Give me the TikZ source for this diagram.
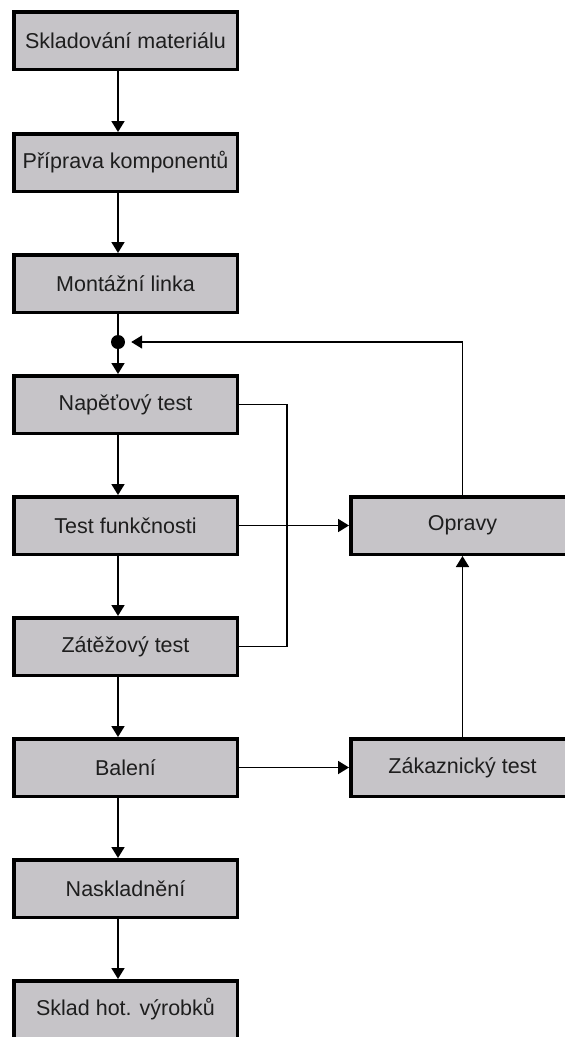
\documentclass[tikz,border=0pt]{standalone}
\usepackage{fontspec}
\setmainfont{Liberation Sans}
\usetikzlibrary{arrows.meta}
\definecolor{boxgray}{RGB}{198,196,200}
\definecolor{txtgray}{RGB}{30,30,30}
\begin{document}
\begin{tikzpicture}[x=1pt,y=-1pt,
  procbox/.style={draw=black, line width=3.5pt, fill=boxgray, minimum width=223.5pt,
    minimum height=57.5pt, inner sep=0pt, text=txtgray,
    font=\fontsize{21.5}{25}\selectfont},
  conn/.style={line width=1.8pt, black},
  arr/.style={conn, -{Triangle[length=11pt,width=13pt]}},
  junction/.style={circle, fill=black, inner sep=0pt, minimum size=14pt}]
\useasboundingbox (0,0) rectangle (565,1037);
\fill[white] (0,0) rectangle (565,1037);

% main production line
\node[procbox] (b1) at (125.5,40.5)  {Skladování materiálu};
\node[procbox] (b2) at (125.5,162.5) {Příprava komponentů};
\node[procbox] (b3) at (125.5,283.5) {Montážní linka};
\node[procbox] (b4) at (125.5,404.5) {Napěťový test};
\node[procbox] (b5) at (125.5,525.5) {Test funkčnosti};
\node[procbox] (b6) at (125.5,646.5) {Zátěžový test};
\node[procbox] (b7) at (125.5,767.5) {Balení};
\node[procbox] (b8) at (125.5,888.5) {Naskladnění};
\node[procbox] (b9) at (125.5,1009.5) {Sklad hot. výrobků};

% side branch
\node[procbox] (r1) at (462.5,525.5) {Opravy};
\node[procbox] (r2) at (462.5,767.5) {Zákaznický test};

% junction point before the voltage test
\node[junction] (j) at (118,342) {};

% vertical flow
\draw[arr] (b1.south -| j) -- (b2.north -| j);
\draw[arr] (b2.south -| j) -- (b3.north -| j);
\draw[conn] (b3.south -| j) -- (j);
\draw[arr] (j) -- (b4.north -| j);
\draw[arr] (b4.south -| j) -- (b5.north -| j);
\draw[arr] (b5.south -| j) -- (b6.north -| j);
\draw[arr] (b6.south -| j) -- (b7.north -| j);
\draw[arr] (b7.south -| j) -- (b8.north -| j);
\draw[arr] (b8.south -| j) -- (b9.north -| j);

% bracket linking the voltage test and the load test
\coordinate (bk) at (287,0);
\draw[conn] (b4.east) -- (b4.east -| bk) -- (b6.east -| bk) -- (b6.east);

% branches to repairs and customer test
\draw[arr] (b5.east) -- (r1.west);
\draw[arr] (b7.east) -- (r2.west);
\draw[arr] (r2.north) -- (r1.south);

% return from repairs to the junction
\draw[arr, shorten >=6pt] (r1.north) |- (j.east);
\end{tikzpicture}
\end{document}
